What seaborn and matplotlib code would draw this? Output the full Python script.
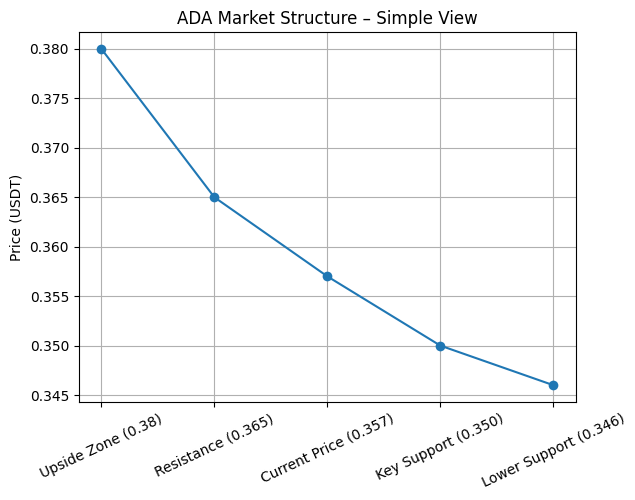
import pandas as pd
import matplotlib
matplotlib.use("Agg")
import matplotlib.pyplot as plt
import seaborn as sns

levels = ['Upside Zone (0.38)', 'Resistance (0.365)', 'Current Price (0.357)',
          'Key Support (0.350)', 'Lower Support (0.346)']
prices = [0.380, 0.365, 0.357, 0.350, 0.346]

df = pd.DataFrame({'Level': levels, 'Price': prices})

fig, ax = plt.subplots(figsize=(6.35, 5), dpi=100)
sns.lineplot(data=df, x='Level', y='Price', marker='o', markersize=7,
             markeredgewidth=0, color='#1f77b4', sort=False, ax=ax)
ax.set_title('ADA Market Structure – Simple View')
ax.set_xlabel('')
ax.set_ylabel('Price (USDT)')
ax.grid(True)
plt.xticks(rotation=25)
plt.subplots_adjust(left=0.124, right=0.907, top=0.936, bottom=0.196)
plt.savefig('out.png')
